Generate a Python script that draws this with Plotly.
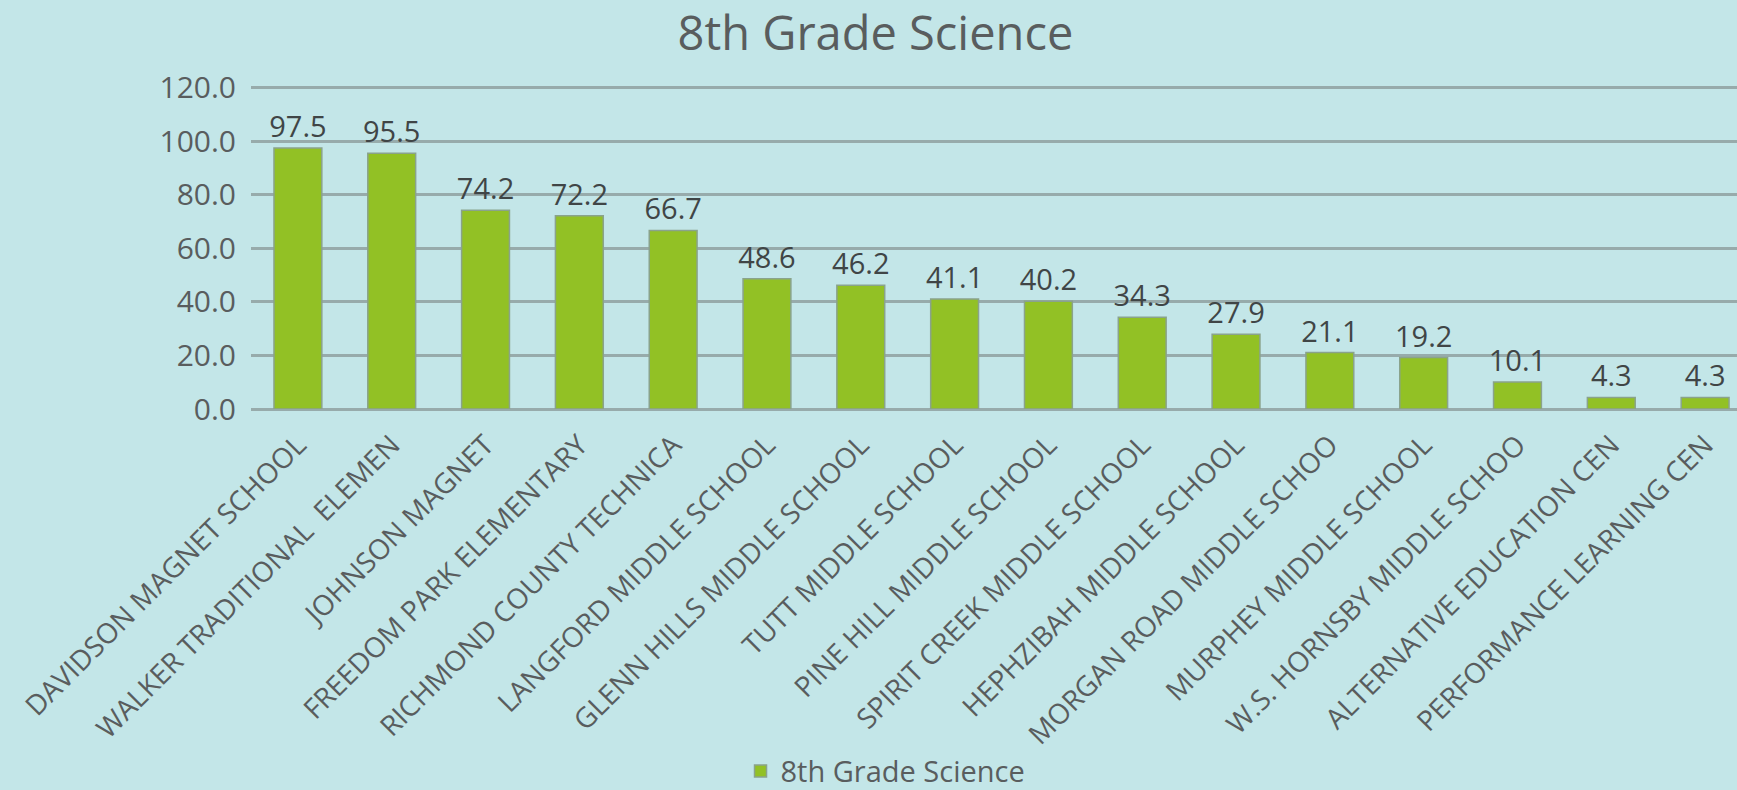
import plotly.graph_objects as go

schools = [
    "DAVIDSON MAGNET SCHOOL", "WALKER TRADITIONAL  ELEMEN", "JOHNSON MAGNET",
    "FREEDOM PARK ELEMENTARY", "RICHMOND COUNTY TECHNICA", "LANGFORD MIDDLE SCHOOL",
    "GLENN HILLS MIDDLE SCHOOL", "TUTT MIDDLE SCHOOL", "PINE HILL MIDDLE SCHOOL",
    "SPIRIT CREEK MIDDLE SCHOOL", "HEPHZIBAH MIDDLE SCHOOL", "MORGAN ROAD MIDDLE SCHOO",
    "MURPHEY MIDDLE SCHOOL", "W.S. HORNSBY MIDDLE SCHOO", "ALTERNATIVE EDUCATION CEN",
    "PERFORMANCE LEARNING CEN",
]
scores = [97.5, 95.5, 74.2, 72.2, 66.7, 48.6, 46.2, 41.1, 40.2, 34.3, 27.9, 21.1, 19.2, 10.1, 4.3, 4.3]
y_ticks = [0, 20, 40, 60, 80, 100, 120]

BG = "#c3e6e8"
TEXT = "#595d5e"
GRID = "#97abab"
FONT = "Open Sans, sans-serif"

fig = go.Figure()
fig.add_trace(go.Bar(
    x=schools, y=scores, name="8th Grade Science",
    marker=dict(color="#92c125", line=dict(color="#8aa38c", width=1.5)),
    width=0.51,
    text=[f"{v:.1f}" for v in scores], textposition="outside", constraintext="none",
    textfont=dict(size=29, color="#404546", family=FONT),
    cliponaxis=False,
))

fig.update_layout(
    width=1737, height=790,
    paper_bgcolor=BG, plot_bgcolor=BG,
    font=dict(family=FONT, color=TEXT),
    title=dict(text="8th Grade Science", x=0.504, xanchor="center", y=0.958, yanchor="middle",
               font=dict(size=47, color=TEXT, family=FONT)),
    margin=dict(l=251, r=0, t=85, b=381),
    bargap=0.49,
    showlegend=True,
    legend=dict(orientation="h", x=0.427, xanchor="center", yref="container", y=0.024,
                yanchor="middle", font=dict(size=29, color=TEXT), bgcolor="rgba(0,0,0,0)",
                itemwidth=30),
    xaxis=dict(tickangle=-45, tickfont=dict(size=28, color=TEXT), range=[-0.5, 15.34],
               showgrid=False, automargin=False, ticks="", ticklabelstandoff=13),
    yaxis=dict(range=[0, 121], tickvals=y_ticks, tickformat=".1f",
               tickfont=dict(size=30, color=TEXT), gridcolor=GRID, gridwidth=3,
               zeroline=True, zerolinecolor=GRID, zerolinewidth=3,
               automargin=False, ticklabelstandoff=14),
)

fig.write_html("out.html", config={"displayModeBar": False},
               post_script="document.body.style.margin='0';")
